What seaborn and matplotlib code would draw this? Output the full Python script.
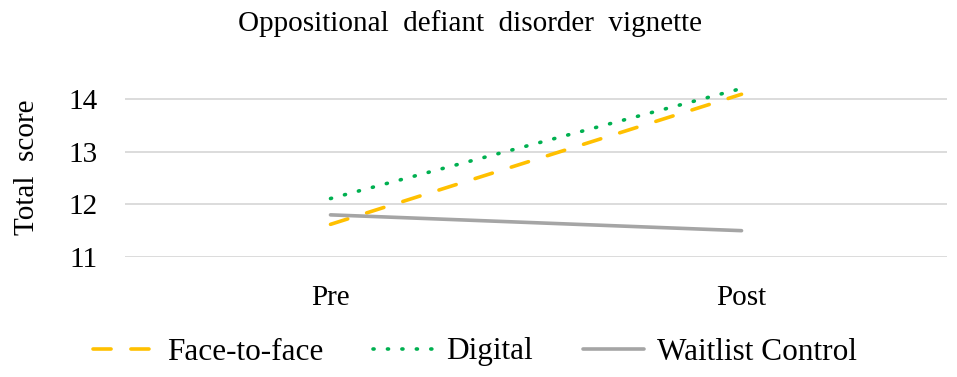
import numpy as np
import pandas as pd
import seaborn as sns
import matplotlib.pyplot as plt

sns.set_style("white")
plt.rcParams["font.family"] = ["Liberation Serif", "DejaVu Serif"]
plt.rcParams["text.color"] = "black"
plt.rcParams["axes.labelcolor"] = "black"
plt.rcParams["xtick.color"] = "black"
plt.rcParams["ytick.color"] = "black"

times = ["Pre", "Post"]
face_to_face = [11.62, 14.09]
digital = [12.11, 14.20]
waitlist = [11.80, 11.50]
groups = ["Face-to-face", "Digital", "Waitlist Control"]

df = pd.DataFrame({
    "time": times * 3,
    "score": face_to_face + digital + waitlist,
    "group": np.repeat(groups, len(times)),
})

colors = {"Face-to-face": "#FFC000", "Digital": "#00B050", "Waitlist Control": "#A5A5A5"}
dashes = {"Face-to-face": (5, 5.5), "Digital": (0.3, 3.7), "Waitlist Control": ""}

fig = plt.figure(figsize=(9.57, 3.77), dpi=100, facecolor="w")
ax = fig.add_axes([0.1306, 0.3183, 0.859, 0.475])

ax.yaxis.grid(True, color="#D9D9D9", linewidth=1.3)
ax.set_axisbelow(True)

sns.lineplot(data=df, x="time", y="score", hue="group", style="group",
             palette=colors, dashes=dashes, sort=False, linewidth=2.6, ax=ax)
for ln in ax.get_lines():
    ln.set_dash_capstyle("round")
    ln.set_solid_capstyle("round")

fs = 21
ax.set_xlim(-0.5, 1.5)
ax.set_ylim(11, 14.4)
ax.set_yticks([11, 12, 13, 14])
for s in ax.spines.values():
    s.set_visible(False)
ax.tick_params(axis="y", length=0, labelsize=fs, pad=20, labelcolor="black")
ax.tick_params(axis="x", length=0, labelsize=fs, pad=20, labelcolor="black")
ax.set_xlabel("")
ax.set_ylabel("Total  score", fontsize=fs, labelpad=20, color="black")
ax.set_title("Oppositional  defiant  disorder  vignette", fontsize=fs, pad=34,
             x=(470 - 125) / 822, color="black")

handles, labels = ax.get_legend_handles_labels()
leg = ax.legend(handles, labels, loc="center", bbox_to_anchor=(475 / 957, 1 - 352 / 377),
                bbox_transform=fig.transFigure, ncol=3, frameon=False, fontsize=22.5,
                handlelength=1.95, handletextpad=0.4, columnspacing=1.6)
for t in leg.get_texts():
    t.set_color("black")

fig.savefig("out.png", dpi=100)
